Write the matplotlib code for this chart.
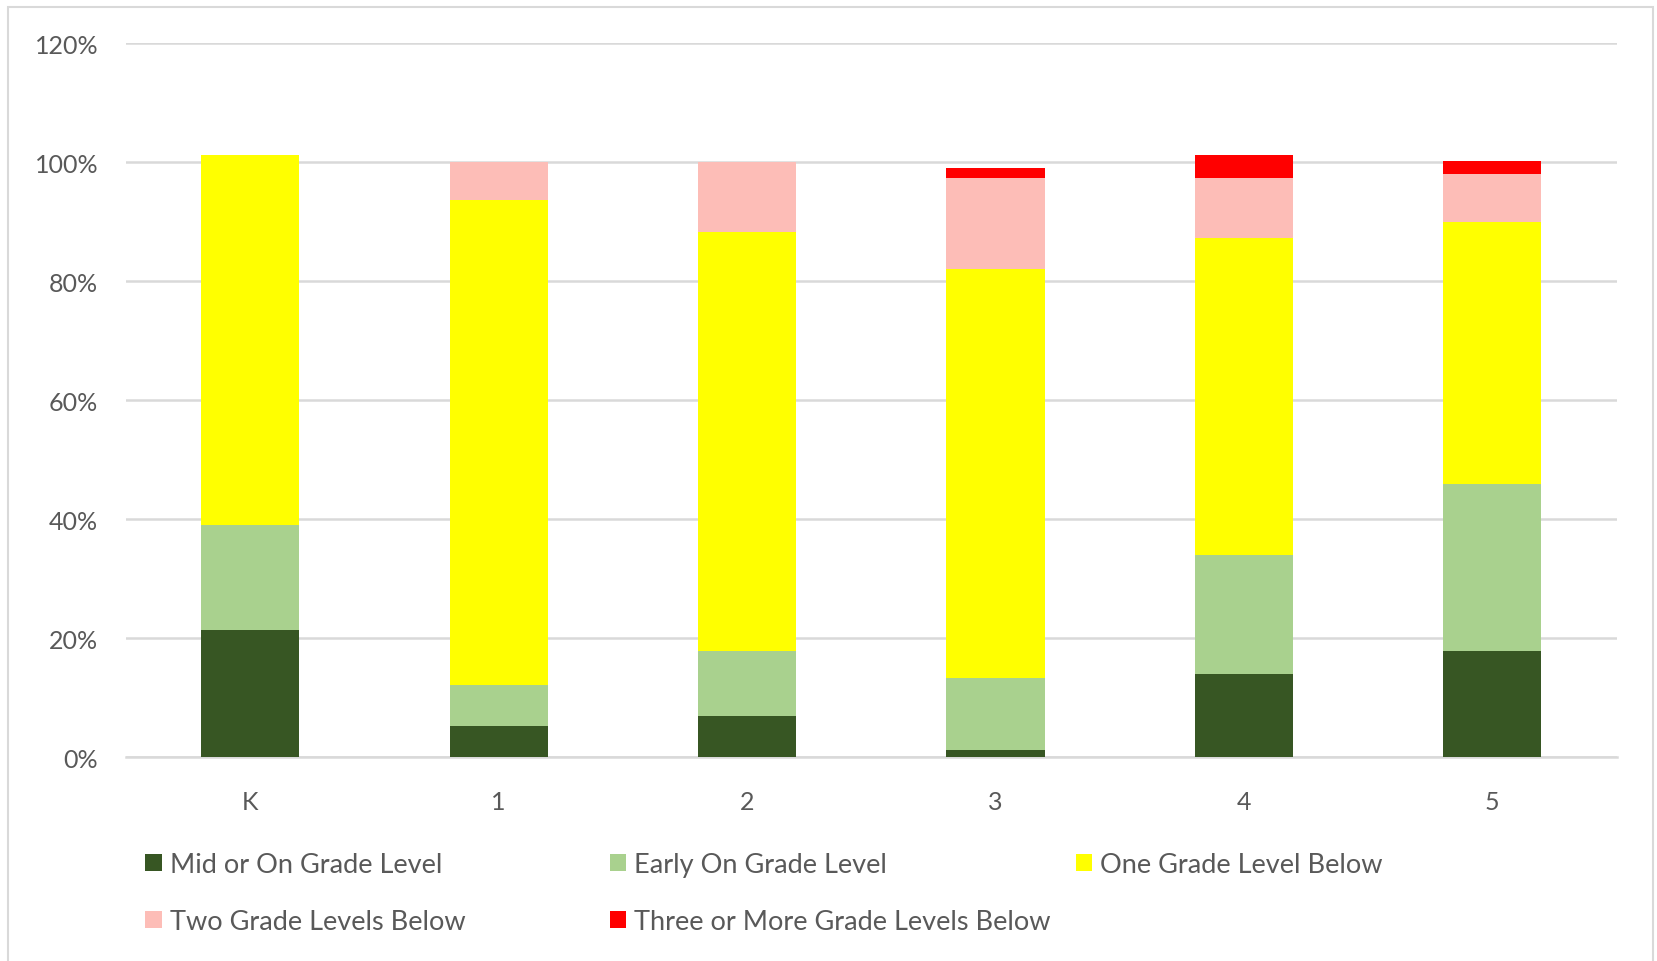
import matplotlib
matplotlib.use("Agg")
import matplotlib.pyplot as plt
import numpy as np
from matplotlib.patches import Patch, Rectangle

# Reading levels by grade (percent of students)
grades = ["K", "1", "2", "3", "4", "5"]
mid_on = [21.4, 5.3, 6.9, 1.2, 13.9, 17.8]
early_on = [17.6, 6.8, 10.9, 12.1, 20.1, 28.1]
one_below = [62.2, 81.5, 70.5, 68.7, 53.2, 44.1]
two_below = [0.0, 6.4, 11.7, 15.3, 10.1, 8.0]
three_below = [0.0, 0.0, 0.0, 1.8, 3.9, 2.2]

series_names = [
    "Mid or On Grade Level",
    "Early On Grade Level",
    "One Grade Level Below",
    "Two Grade Levels Below",
    "Three or More Grade Levels Below",
]
series = [mid_on, early_on, one_below, two_below, three_below]
colors = ["#375623", "#a9d18e", "#ffff00", "#fdbdb7", "#ff0000"]

TEXT = "#595959"
FONT = ["Lato", "DejaVu Sans"]

fig = plt.figure(figsize=(16.58, 9.62), dpi=100)
ax = fig.add_axes([0.076, 0.212, 0.899, 0.742])

x = np.arange(len(grades))
bottom = np.zeros(len(grades))
for vals, col in zip(series, colors):
    vals = np.array(vals) / 100.0
    ax.bar(x, vals, width=0.395, bottom=bottom, color=col, zorder=3)
    bottom += vals

ax.set_xlim(-0.5, len(grades) - 0.5)
ax.set_ylim(0, 1.2)
yt = np.arange(0, 1.21, 0.2)
ax.set_yticks(yt)
ax.set_yticklabels([f"{int(round(v * 100))}%" for v in yt])
ax.set_xticks(x)
ax.set_xticklabels(grades)

for lbl in ax.get_xticklabels() + ax.get_yticklabels():
    lbl.set_family(FONT)
    lbl.set_fontsize(18)
    lbl.set_color(TEXT)

ax.tick_params(axis="both", length=0)
ax.tick_params(axis="y", pad=20)
ax.tick_params(axis="x", pad=24)
ax.grid(axis="y", color="#d9d9d9", linewidth=1.8, zorder=0)
for s in ["top", "right", "left"]:
    ax.spines[s].set_visible(False)
ax.spines["bottom"].set_color("#d9d9d9")
ax.spines["bottom"].set_linewidth(1.8)

# Legend entries laid out in Excel style (equal column spacing)
legend_pos = [(0.073, 0.100), (0.353, 0.100), (0.634, 0.100),
              (0.073, 0.041), (0.353, 0.041)]
for name, col, (lx, ly) in zip(series_names, colors, legend_pos):
    fig.legend(handles=[Patch(facecolor=col, label=name)],
               loc="center left", bbox_to_anchor=(lx, ly),
               frameon=False, handlelength=0.6, handleheight=0.6,
               handletextpad=0.3,
               prop={"family": FONT, "size": 19.5},
               labelcolor=TEXT)

# light outer border
fig.add_artist(Rectangle((0.005, -0.01), 0.992, 1.002, transform=fig.transFigure,
                         fill=False, edgecolor="#d9d9d9", linewidth=1.5))

fig.savefig("out.png", dpi=100)
